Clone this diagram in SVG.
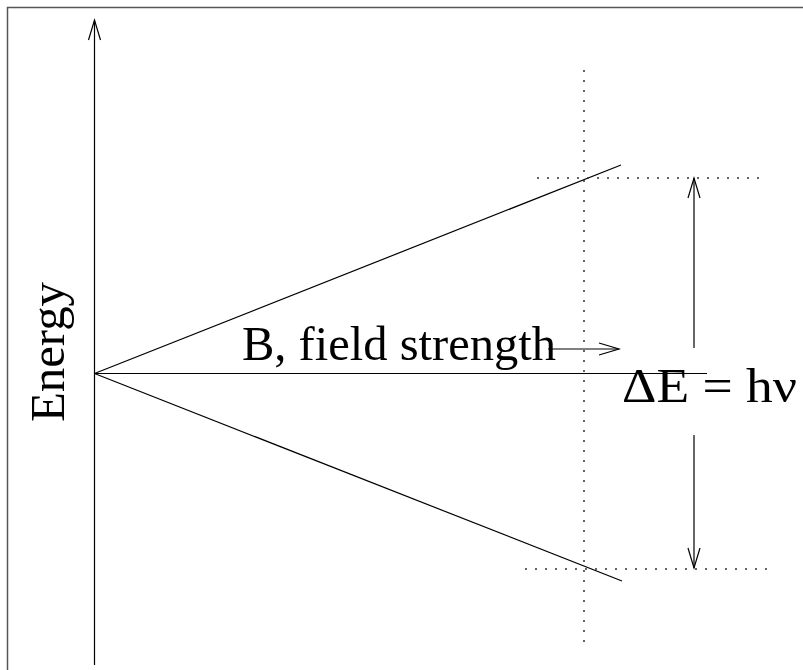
<svg xmlns="http://www.w3.org/2000/svg" width="803" height="670" viewBox="0 0 803 670">
<style>
.ln{stroke:#000;stroke-width:1.2;fill:none}
.dot{stroke:#333;stroke-width:1.5;stroke-dasharray:2 8;fill:none}
.txt{font-family:"Liberation Serif","Times New Roman",serif;font-size:48px;fill:#000}
</style>
<defs>
<marker id="ah" markerUnits="userSpaceOnUse" markerWidth="24" markerHeight="14" refX="20" refY="6" orient="auto" overflow="visible">
<path d="M0,0 L20,6 L0,12" fill="none" stroke="#000" stroke-width="1.2"/>
</marker>
</defs>
<rect x="0" y="0" width="803" height="670" fill="#fff"/>
<g id="frame">
<path d="M7.5,670 V7.5 H803" fill="none" stroke="#555" stroke-width="1.5"/>
</g>
<g id="connectors">
<line class="ln" x1="94.5" y1="665" x2="94.5" y2="20" marker-end="url(#ah)"/>
<line class="ln" x1="94.5" y1="373.5" x2="707" y2="373.5"/>
<line class="ln" x1="94.5" y1="373.5" x2="621" y2="165"/>
<line class="ln" x1="94.5" y1="373.5" x2="622" y2="581"/>
<line class="dot" x1="584" y1="70" x2="584" y2="650"/>
<line class="dot" x1="537" y1="178" x2="766" y2="178"/>
<line class="dot" x1="525" y1="569" x2="774" y2="569"/>
<line class="ln" x1="694" y1="348" x2="694" y2="178" marker-end="url(#ah)"/>
<line class="ln" x1="694" y1="435" x2="694" y2="568" marker-end="url(#ah)"/>
<line class="ln" x1="548" y1="349" x2="619" y2="349" marker-end="url(#ah)"/>
</g>
<g id="label-energy">
<text class="txt" transform="translate(64,422) rotate(-90)" textLength="140" lengthAdjust="spacingAndGlyphs">Energy</text>
</g>
<g id="label-field">
<text class="txt" x="242" y="360" textLength="314" lengthAdjust="spacingAndGlyphs">B, field strength</text>
</g>
<g id="label-delta">
<text class="txt" x="622" y="402" textLength="175" lengthAdjust="spacingAndGlyphs">ΔE = hν</text>
</g>
</svg>
